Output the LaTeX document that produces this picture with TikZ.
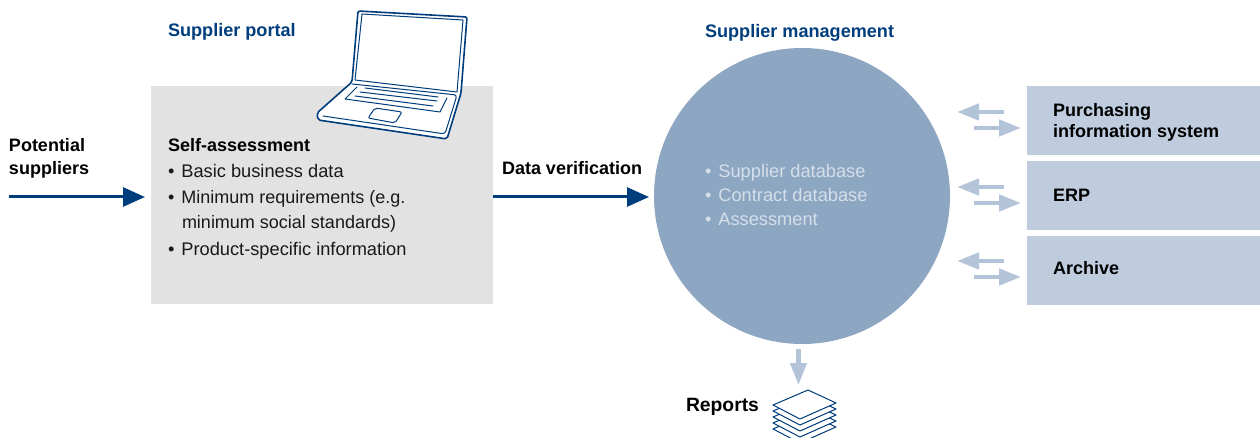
\documentclass[tikz,border=0pt]{standalone}
\usepackage{fontspec}
\setmainfont{Liberation Sans}
\usetikzlibrary{arrows.meta}
\definecolor{navy}{HTML}{003D7C}
\definecolor{circ}{HTML}{8DA6C2}
\definecolor{boxb}{HTML}{BECCDE}
\definecolor{greyb}{HTML}{E2E2E2}
\definecolor{lite}{HTML}{B3C4D9}
\definecolor{circt}{HTML}{D5DFEA}
\tikzset{x=1pt,y=-1pt,
 txt/.style={anchor=base west,inner sep=0pt,outer sep=0pt,font=\fontsize{18.25}{21}\selectfont,text=black!90},
 txtn/.style={txt,font=\fontsize{18}{21}\selectfont},
 head/.style={txt,font=\fontsize{18}{21}\selectfont\bfseries,text=black},
 headb/.style={head,font=\fontsize{19.3}{21}\selectfont\bfseries},
 title/.style={head,font=\fontsize{18.1}{21}\selectfont\bfseries,text=navy},
 ctxt/.style={txt,text=circt},
 bigarrow/.style={draw=navy,line width=3pt,-{Triangle[length=22pt,width=19pt,fill=navy]}},
 litearrow/.style={draw=lite,line width=4.5pt,-{Triangle[length=22pt,width=16pt,fill=lite]}},
 lap/.style={draw=navy,line width=1pt,line join=round,line cap=round},
 lapo/.style={draw=navy,line width=1.6pt,line join=round,fill=white},
 sheet/.style={draw=navy,line width=1pt,line join=round,fill=white},
 sysbox/.style={fill=boxb,draw=none,anchor=north west,minimum width=233pt,minimum height=69pt,inner sep=0pt}
}
\begin{document}
\begin{tikzpicture}
\useasboundingbox (0,0) rectangle (1260,438);
% main shapes
\node[fill=greyb,anchor=north west,minimum width=342pt,minimum height=218pt,inner sep=0pt] (portal) at (151,86) {};
\node[fill=circ,circle,minimum size=296pt,inner sep=0pt] (mgmt) at (802,196) {};
\node[sysbox] (pis) at (1027,86) {};
\node[sysbox] (erp) at (1027,161) {};
\node[sysbox] (arch) at (1027,236) {};
% laptop
\draw[lapo,rounded corners=2pt] (358,11) -- (467,17) -- (461,93) -- (447,139) -- (318,120) -- (317,113) -- (352,82) -- cycle;
\draw[lap] (362,14) -- (463,20) -- (457,92) -- (355,80) -- cycle;
\draw[lap,rounded corners=3pt] (352,84) -- (457,95) -- (445,134) -- (323,116);
\draw[lap] (357,87) -- (345,99) -- (440,112) -- (447,98);
\draw[lap] (365,88) -- (438,97);
\draw[lap] (360,92) -- (437,101);
\draw[lap] (355,96) -- (433,106);
\draw[lap,rounded corners=2pt] (375,108) -- (402,112) -- (395,123) -- (368,118) -- cycle;
% report stack
\foreach \d in {24,18,12,6,0}{
 \draw[sheet] (808,{390+\d}) -- (836,{403+\d}) -- (800,{419+\d}) -- (773,{405+\d}) -- cycle;
}
% arrows
\coordinate (a1s) at (9,197); \coordinate (a1e) at (145,197);
\coordinate (a2s) at (493,197); \coordinate (a2e) at (649,197);
\draw[bigarrow] (a1s) -- (a1e);
\draw[bigarrow] (a2s) -- (a2e);
\foreach \n/\ya/\yb in {p/112/128,e/187/203,r/261/277}{
 \coordinate (\n ls) at (1004,\ya); \coordinate (\n le) at (957,\ya);
 \coordinate (\n rs) at (974,\yb); \coordinate (\n re) at (1021,\yb);
 \draw[litearrow] (\n ls) -- (\n le);
 \draw[litearrow] (\n rs) -- (\n re);
}
\coordinate (rs) at (798.5,349); \coordinate (re) at (798.5,385);
\draw[litearrow] (rs) -- (re);
% text
\node[title] (t1) at (168,37) {Supplier portal};
\node[title] (t2) at (705,38) {Supplier management};
\node[head] (t3) at (9,152) {Potential};
\node[head] (t4) at (9,175) {suppliers};
\node[head] (t5) at (168,152) {Self-assessment};
\node[txt] (b1) at (168,178) {•\hspace{7pt}Basic business data};
\node[txtn] (b2) at (168,204) {•\hspace{7pt}Minimum requirements (e.g.};
\node[txtn] (b3) at (182,229) {minimum social standards)};
\node[txt] (b4) at (168,255) {•\hspace{7pt}Product-specific information};
\node[head] (t6) at (502,175) {Data verification};
\node[ctxt] (c1) at (705,178) {•\hspace{7pt}Supplier database};
\node[ctxt] (c2) at (705,202) {•\hspace{7pt}Contract database};
\node[ctxt] (c3) at (705,226) {•\hspace{7pt}Assessment};
\node[head] (s1) at (1053,117) {Purchasing};
\node[head] (s2) at (1053,138) {information system};
\node[head] (s3) at (1053,202) {ERP};
\node[head] (s4) at (1053,275) {Archive};
\node[headb] (s5) at (686,411) {Reports};
\end{tikzpicture}
\end{document}
